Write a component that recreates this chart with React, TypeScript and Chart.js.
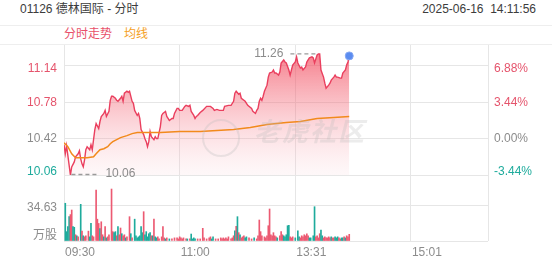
import React, { useEffect, useRef } from 'react';
import { Chart, registerables } from 'chart.js';

Chart.register(...registerables);

const FONT_FAMILY = "'Liberation Sans', Arial, 'Noto Sans CJK SC', sans-serif";

// ---------- texts ----------
const stockTitle = '01126 德林国际 - 分时';
const timestampText = '2025-06-16  14:11:56';
const legendPriceLabel = '分时走势';
const legendAvgLabel = '均线';
const watermarkText = '老虎社区';

// ---------- axes ----------
const prevClose = 10.42;
const priceAxisMin = 10.06;
const priceAxisMax = 11.348;
const priceTickValues = [10.06, 10.42, 10.78, 11.14];
const priceTickLabels = ['10.06', '10.42', '10.78', '11.14'];
const percentTickLabels = ['-3.44%', '0.00%', '3.44%', '6.88%'];
const sessionMinutes = 330;
const timeTickMinutes = [0, 90, 180, 270, 330];
const timeTickLabels = ['09:30', '11:00', '13:31', '15:01', ''];
const volumeAxisMax = 63.5;
const volumeTickValue = 34.63;
const volumeTickLabel = '34.63';
const volumeUnitLabel = '万股';

// ---------- price series (minutes since 09:30, trading time) ----------
const priceMinutes = [
  0, 1, 2, 5, 6, 8, 9, 11, 12, 13, 14,
  15, 16, 17, 18, 20, 21, 22, 23, 24, 25,
  27, 28, 29, 31, 32, 33, 35, 36, 37, 38,
  40, 41, 42, 44, 45, 46, 47, 49, 50, 51,
  53, 54, 55, 57, 58, 59, 60, 62, 63, 64,
  65, 66, 67, 68, 70, 71, 72, 73, 75, 76,
  77, 79, 80, 81, 82, 84, 85, 86, 88, 89,
  90, 92, 93, 94, 95, 97, 98, 99, 101, 102,
  103, 104, 106, 108, 111, 114, 116, 117, 119, 121,
  124, 125, 128, 130, 132, 133, 134, 136, 137, 138,
  141, 143, 146, 147, 149, 150, 151, 152, 153, 154,
  155, 156, 158, 159, 160, 162, 163, 164, 165, 167,
  168, 169, 171, 172, 173, 175, 176, 177, 178, 180,
  181, 182, 184, 185, 186, 188, 189, 190, 191, 193,
  194, 195, 197, 198, 199, 200, 202, 203, 204, 206,
  207, 208, 210, 211, 212, 213, 215, 216, 217, 219,
  220, 221, 222,
];
const prices = [
  10.36, 10.27, 10.35, 10.06, 10.14, 10.19, 10.24, 10.27, 10.30, 10.22, 10.17,
  10.14, 10.21, 10.31, 10.34, 10.31, 10.36, 10.31, 10.41, 10.51, 10.57,
  10.52, 10.59, 10.64, 10.67, 10.70, 10.64, 10.69, 10.80, 10.84, 10.84,
  10.82, 10.80, 10.79, 10.82, 10.84, 10.79, 10.87, 10.89, 10.88, 10.89,
  10.79, 10.77, 10.70, 10.65, 10.67, 10.62, 10.51, 10.46, 10.42, 10.39,
  10.34, 10.39, 10.49, 10.44, 10.41, 10.44, 10.42, 10.42, 10.54, 10.65,
  10.67, 10.69, 10.64, 10.62, 10.60, 10.62, 10.62, 10.67, 10.72, 10.72,
  10.70, 10.70, 10.72, 10.74, 10.75, 10.74, 10.75, 10.69, 10.65, 10.62,
  10.64, 10.65, 10.68, 10.70, 10.74, 10.74, 10.72, 10.70, 10.71, 10.70,
  10.70, 10.74, 10.75, 10.75, 10.79, 10.87, 10.89, 10.86, 10.87, 10.82,
  10.79, 10.75, 10.72, 10.69, 10.67, 10.70, 10.72, 10.79, 10.82, 10.80,
  10.84, 10.89, 10.95, 11.03, 11.07, 11.08, 11.10, 11.07, 11.07, 11.05,
  11.08, 11.17, 11.20, 11.18, 11.17, 11.10, 11.05, 11.10, 11.15, 11.18,
  11.23, 11.17, 11.12, 11.13, 11.10, 11.13, 11.18, 11.20, 11.22, 11.23,
  11.22, 11.17, 11.25, 11.26, 11.26, 11.10, 11.03, 10.97, 10.92, 10.95,
  10.97, 11.00, 11.03, 11.05, 11.03, 11.03, 11.02, 11.02, 11.07, 11.10,
  11.15, 11.18, 11.24,
];

// ---------- average price series ----------
const avgMinutes = [0, 3, 6, 9, 12, 18, 23, 25, 28, 31, 34, 36, 38, 41, 44, 49, 53, 57, 62, 75, 90, 106, 132, 145, 158, 173, 184, 197, 210, 222];
const avgPrices = [10.38, 10.34, 10.27, 10.23, 10.23, 10.23, 10.24, 10.27, 10.31, 10.32, 10.34, 10.37, 10.39, 10.41, 10.43, 10.45, 10.47, 10.48, 10.48, 10.48, 10.49, 10.49, 10.51, 10.53, 10.56, 10.58, 10.59, 10.62, 10.63, 10.64];

// ---------- volume series (万股) ----------
const volumeMinutes = [
  1, 2, 3, 4, 5, 6, 7, 8, 9, 10,
  11, 13, 14, 15, 16, 17, 19, 20, 21, 22,
  23, 25, 26, 27, 28, 29, 30, 31, 32, 33,
  34, 35, 37, 38, 39, 40, 41, 42, 43, 44,
  45, 46, 47, 48, 49, 51, 52, 53, 55, 56,
  57, 58, 59, 60, 61, 62, 63, 64, 65, 66,
  67, 68, 69, 70, 71, 72, 73, 74, 76, 77,
  78, 79, 80, 82, 84, 86, 88, 89, 90, 91,
  92, 93, 95, 96, 98, 99, 100, 101, 102, 104,
  106, 108, 109, 111, 113, 114, 115, 116, 118, 120,
  122, 123, 124, 125, 126, 127, 128, 130, 131, 132,
  133, 134, 135, 136, 137, 138, 139, 140, 141, 142,
  144, 146, 148, 150, 151, 152, 153, 154, 156, 157,
  158, 159, 160, 161, 162, 163, 164, 165, 166, 168,
  169, 170, 171, 172, 173, 174, 175, 176, 177, 178,
  180, 182, 183, 184, 185, 186, 187, 188, 189, 190,
  191, 192, 194, 195, 196, 197, 198, 199, 200, 201,
  202, 203, 204, 205, 206, 207, 208, 209, 210, 211,
  212, 213, 214, 215, 216, 217, 218, 219, 220, 221,
  222,
];
const volumes = [
  36.3, 9, 13.8, 23.4, 25.4, 29.8, 13.8, 13.2, 6, 5,
  4, 35.3, 9.5, 5, 4, 5, 9.5, 4, 16.9, 5,
  4, 49, 21, 16.9, 11.9, 18.5, 6, 4, 13.8, 3,
  4, 6, 50, 9, 8, 9, 5, 13.8, 6, 12.5,
  7, 5, 6, 3, 4, 23.4, 7, 3, 21, 5,
  3, 4, 5, 13.8, 8, 28.2, 6, 9, 4, 7,
  8, 5, 5, 21, 4, 3, 4, 2, 4, 13.8,
  3, 2, 3, 2, 2, 3, 3, 2, 4, 3,
  2, 3, 2, 2, 2, 6.7, 2, 3, 2, 2,
  2, 12.2, 3, 2, 3, 4, 2, 4, 2, 2,
  3, 2, 3, 2, 3, 2, 4, 2, 3, 5,
  9.9, 14, 23.4, 8, 6, 3, 4, 5, 3, 4,
  3, 2, 3, 2, 5, 20.2, 9, 5, 4, 3,
  5, 14.7, 30.8, 6, 5, 8, 5, 4, 3, 5,
  9, 6, 5, 4, 6, 14.7, 15, 4, 3, 4,
  3, 9.9, 4, 3, 5, 4, 6, 5, 7, 5,
  3, 3, 5, 33, 4, 5, 3, 7, 10.5, 5,
  3, 4, 3, 3, 4, 3, 4, 3, 3, 4,
  3, 4, 3, 2, 3, 3, 4, 3, 5, 4,
  6.4,
];
// 1 = up (red), -1 = down (teal)
const volumeDirections = [
  -1, -1, -1, -1, 1, 1, -1, -1, 1, -1,
  1, -1, 1, -1, 1, 1, 1, -1, -1, 1,
  1, 1, 1, 1, -1, 1, 1, -1, 1, -1,
  1, 1, 1, 1, -1, -1, 1, -1, 1, 1,
  -1, 1, 1, -1, 1, 1, -1, 1, -1, -1,
  -1, -1, -1, -1, -1, 1, -1, -1, -1, -1,
  -1, 1, -1, 1, -1, -1, 1, 1, 1, 1,
  1, -1, 1, -1, 1, 1, 1, 1, 1, 1,
  1, 1, 1, -1, 1, -1, -1, -1, -1, 1,
  1, 1, 1, 1, 1, 1, -1, -1, 1, 1,
  1, 1, 1, 1, 1, 1, 1, 1, 1, 1,
  -1, 1, -1, 1, -1, 1, 1, 1, -1, -1,
  1, 1, -1, 1, 1, 1, 1, 1, 1, 1,
  1, 1, 1, 1, 1, 1, 1, 1, -1, 1,
  1, 1, -1, -1, -1, -1, -1, 1, 1, 1,
  -1, -1, -1, 1, 1, 1, 1, 1, 1, 1,
  -1, -1, -1, -1, 1, 1, 1, 1, -1, -1,
  1, 1, 1, 1, 1, 1, -1, 1, 1, -1,
  -1, -1, 1, 1, -1, -1, 1, -1, 1, 1,
  1,
];

// ---------- styling ----------
const GRID = '#e6e6e6';
const RED_LINE = '#ea3f5e';
const RED_TEXT = '#e5546c';
const TEAL = '#1eab9c';
const GRAY_TEXT = '#8c8c8c';
const ORANGE = '#f28a1c';
const BLUE_DOT = '#5b8cf0';

const PRICE_TOP = 45;
const PRICE_BOTTOM = 175;
const VOL_BOTTOM = 241;
const AXIS_W = 64;
const W = 552;
const H = 265;

type TickSpec = { value: number; label: string; color: string; grid: boolean };

function pxToValue(px: number, range: number, heightPx: number) {
  return (px * range) / heightPx;
}

function buildPriceSpecs(labels: string[]): TickSpec[] {
  const nudge = pxToValue(3, priceAxisMax - priceAxisMin, PRICE_BOTTOM - PRICE_TOP);
  const specs: TickSpec[] = [];
  const last = priceTickValues.length - 1;
  priceTickValues.forEach((v, i) => {
    const color = v > prevClose + 1e-9 ? RED_TEXT : v < prevClose - 1e-9 ? TEAL : GRAY_TEXT;
    if (i === 0 || i === last) {
      specs.push({ value: v, label: '', color, grid: true });
      specs.push({ value: i === 0 ? v + nudge : v - nudge, label: labels[i], color, grid: false });
    } else {
      specs.push({ value: v, label: labels[i], color, grid: true });
    }
  });
  return specs;
}

function buildVolumeSpecs(): TickSpec[] {
  const h = VOL_BOTTOM - PRICE_BOTTOM;
  return [
    { value: 0, label: '', color: GRAY_TEXT, grid: true },
    { value: pxToValue(5, volumeAxisMax, h), label: volumeUnitLabel, color: GRAY_TEXT, grid: false },
    { value: volumeTickValue - pxToValue(3, volumeAxisMax, h), label: volumeTickLabel, color: GRAY_TEXT, grid: false },
    { value: volumeTickValue, label: '', color: GRAY_TEXT, grid: true },
  ];
}

const hiLoPlugin = {
  id: 'hiLoMarkers',
  afterDatasetsDraw(chart: any) {
    const { ctx, scales } = chart;
    const x = scales.x;
    const y = scales.y;
    let hi = 0;
    let lo = 0;
    prices.forEach((p, i) => {
      if (p > prices[hi]) hi = i;
      if (p < prices[lo]) lo = i;
    });
    ctx.save();
    ctx.strokeStyle = '#9a9a9a';
    ctx.lineWidth = 1.3;
    ctx.setLineDash([4, 3]);
    ctx.fillStyle = '#8c8c8c';
    ctx.font = '12px ' + FONT_FAMILY;
    ctx.textBaseline = 'middle';
    const hx = x.getPixelForValue(priceMinutes[hi]);
    const hy = y.getPixelForValue(prices[hi]);
    ctx.beginPath();
    ctx.moveTo(hx - 28, hy);
    ctx.lineTo(hx, hy);
    ctx.stroke();
    ctx.textAlign = 'right';
    ctx.fillText(prices[hi].toFixed(2), hx - 35, hy);
    const lx = x.getPixelForValue(priceMinutes[lo]);
    const ly = y.getPixelForValue(prices[lo]);
    ctx.beginPath();
    ctx.moveTo(lx + 1, ly - 0.5);
    ctx.lineTo(lx + 29, ly - 0.5);
    ctx.stroke();
    ctx.textAlign = 'left';
    ctx.fillText(prices[lo].toFixed(2), lx + 35, ly - 1);
    ctx.restore();
  },
};

export default function App() {
  const priceRef = useRef<HTMLCanvasElement>(null);
  const volRef = useRef<HTMLCanvasElement>(null);

  useEffect(() => {
    Chart.defaults.font.family = FONT_FAMILY;
    Chart.defaults.font.size = 12;

    const leftSpecs = buildPriceSpecs(priceTickLabels);
    const rightSpecs = buildPriceSpecs(percentTickLabels);
    const volSpecs = buildVolumeSpecs();

    const lastIdx = prices.length - 1;

    const priceChart = new Chart(priceRef.current as HTMLCanvasElement, {
      type: 'line',
      data: {
        datasets: [
          {
            label: 'last',
            data: [{ x: priceMinutes[lastIdx], y: prices[lastIdx] }],
            showLine: false,
            pointRadius: 4,
            pointBackgroundColor: BLUE_DOT,
            pointBorderColor: '#86a8f3',
            pointBorderWidth: 1,
          },
          {
            label: legendAvgLabel,
            data: avgMinutes.map((m, i) => ({ x: m, y: avgPrices[i] })),
            borderColor: ORANGE,
            borderWidth: 1.5,
            pointRadius: 0,
            fill: false,
            tension: 0,
          },
          {
            label: legendPriceLabel,
            data: priceMinutes.map((m, i) => ({ x: m, y: prices[i] })),
            borderColor: RED_LINE,
            borderWidth: 1.4,
            pointRadius: 0,
            tension: 0,
            fill: 'start',
            backgroundColor: (c: any) => {
              const area = c.chart.chartArea;
              if (!area) return 'rgba(240,80,100,0.3)';
              const g = c.chart.ctx.createLinearGradient(0, area.top, 0, area.bottom);
              g.addColorStop(0, 'rgba(240,60,80,0.72)');
              g.addColorStop(0.5, 'rgba(244,110,125,0.38)');
              g.addColorStop(1, 'rgba(250,200,208,0.12)');
              return g;
            },
          },
        ],
      },
      options: {
        responsive: false,
        animation: false,
        events: [],
        layout: { padding: { top: PRICE_TOP, bottom: H - PRICE_BOTTOM, left: 0, right: 0 } },
        plugins: { legend: { display: false }, tooltip: { enabled: false } },
        scales: {
          x: {
            type: 'linear',
            min: 0,
            max: sessionMinutes,
            afterBuildTicks: (s: any) => {
              s.ticks = timeTickMinutes.map((v) => ({ value: v }));
            },
            afterFit: (s: any) => {
              s.height = 0;
            },
            ticks: { display: false },
            grid: { color: GRID, drawTicks: false },
            border: { display: false },
          },
          y: {
            type: 'linear',
            position: 'left',
            min: priceAxisMin,
            max: priceAxisMax,
            afterBuildTicks: (s: any) => {
              s.ticks = leftSpecs.map((t) => ({ value: t.value }));
            },
            afterFit: (s: any) => {
              s.width = AXIS_W;
            },
            ticks: {
              autoSkip: false,
              padding: 7,
              color: (c: any) => leftSpecs[c.index]?.color ?? GRAY_TEXT,
              callback: (_v: any, i: number) => leftSpecs[i]?.label ?? '',
            },
            grid: {
              drawTicks: false,
              color: (c: any) => (leftSpecs[c.index]?.grid ? GRID : 'rgba(0,0,0,0)'),
            },
            border: { display: false },
          },
          y2: {
            type: 'linear',
            position: 'right',
            min: priceAxisMin,
            max: priceAxisMax,
            afterBuildTicks: (s: any) => {
              s.ticks = rightSpecs.map((t) => ({ value: t.value }));
            },
            afterFit: (s: any) => {
              s.width = AXIS_W;
            },
            ticks: {
              autoSkip: false,
              padding: 6,
              color: (c: any) => rightSpecs[c.index]?.color ?? GRAY_TEXT,
              callback: (_v: any, i: number) => rightSpecs[i]?.label ?? '',
            },
            grid: { display: false, drawTicks: false },
            border: { display: false },
          },
        },
      },
      plugins: [hiLoPlugin],
    } as any);

    const volChart = new Chart(volRef.current as HTMLCanvasElement, {
      type: 'bar',
      data: {
        datasets: [
          {
            label: volumeUnitLabel,
            data: volumeMinutes.map((m, i) => ({ x: m, y: volumes[i] })),
            backgroundColor: volumeDirections.map((d) => (d > 0 ? '#ec5a72' : TEAL)),
            barThickness: 1,
            borderWidth: 0,
          },
        ],
      },
      options: {
        responsive: false,
        animation: false,
        events: [],
        layout: { padding: { top: PRICE_BOTTOM, bottom: 0, left: 0, right: W - AXIS_W - 424 } },
        plugins: { legend: { display: false }, tooltip: { enabled: false } },
        scales: {
          x: {
            type: 'linear',
            min: 0,
            max: sessionMinutes,
            offset: false,
            afterBuildTicks: (s: any) => {
              s.ticks = timeTickMinutes.map((v) => ({ value: v }));
            },
            afterFit: (s: any) => {
              s.height = H - VOL_BOTTOM;
            },
            ticks: {
              autoSkip: false,
              maxRotation: 0,
              align: 'start',
              labelOffset: 1,
              padding: 4,
              color: GRAY_TEXT,
              callback: (_v: any, i: number) => timeTickLabels[i] ?? '',
            },
            grid: { color: GRID, drawTicks: false, offset: false },
            border: { display: false },
          },
          y: {
            type: 'linear',
            position: 'left',
            min: 0,
            max: volumeAxisMax,
            afterBuildTicks: (s: any) => {
              s.ticks = volSpecs.map((t) => ({ value: t.value }));
            },
            afterFit: (s: any) => {
              s.width = AXIS_W;
            },
            ticks: {
              autoSkip: false,
              padding: 7,
              color: GRAY_TEXT,
              callback: (_v: any, i: number) => volSpecs[i]?.label ?? '',
            },
            grid: {
              drawTicks: false,
              color: (c: any) => (volSpecs[c.index]?.grid ? GRID : 'rgba(0,0,0,0)'),
            },
            border: { display: false },
          },
        },
      },
    } as any);

    return () => {
      priceChart.destroy();
      volChart.destroy();
    };
  }, []);

  const abs: React.CSSProperties = { position: 'absolute', whiteSpace: 'pre', lineHeight: '14px', fontSize: 12 };

  return (
    <div
      style={{
        position: 'fixed',
        left: 0,
        top: 0,
        width: W,
        height: H,
        background: '#fff',
        overflow: 'hidden',
        fontFamily: FONT_FAMILY,
      }}
    >
      <div style={{ ...abs, left: 20, top: 2, color: '#3c3c3c' }}>{stockTitle}</div>
      <div style={{ ...abs, right: 16, top: 2, color: '#3c3c3c' }}>{timestampText}</div>
      <div
        style={{
          position: 'absolute',
          left: 0,
          top: 25,
          width: W,
          height: 18,
          borderTop: '1px solid #eeeeee',
          borderBottom: '1px solid #eeeeee',
        }}
      />
      <div style={{ ...abs, left: 64, top: 27, color: '#e8506a' }}>{legendPriceLabel}</div>
      <div style={{ ...abs, left: 124, top: 27, color: '#f5a024' }}>{legendAvgLabel}</div>
      <canvas ref={priceRef} width={W} height={H} style={{ position: 'absolute', left: 0, top: 0 }} />
      <canvas ref={volRef} width={W} height={H} style={{ position: 'absolute', left: 0, top: 0 }} />
      <div
        style={{
          position: 'absolute',
          left: 202,
          top: 119,
          width: 34,
          height: 34,
          borderRadius: '50%',
          border: '2px solid rgba(190,190,190,0.3)',
          pointerEvents: 'none',
        }}
      />
      <div
        style={{
          ...abs,
          left: 254,
          top: 117,
          fontSize: 26,
          lineHeight: '30px',
          letterSpacing: 2,
          fontWeight: 700,
          fontStyle: 'italic',
          color: 'rgba(185,185,185,0.28)',
          pointerEvents: 'none',
        }}
      >
        {watermarkText}
      </div>
    </div>
  );
}
